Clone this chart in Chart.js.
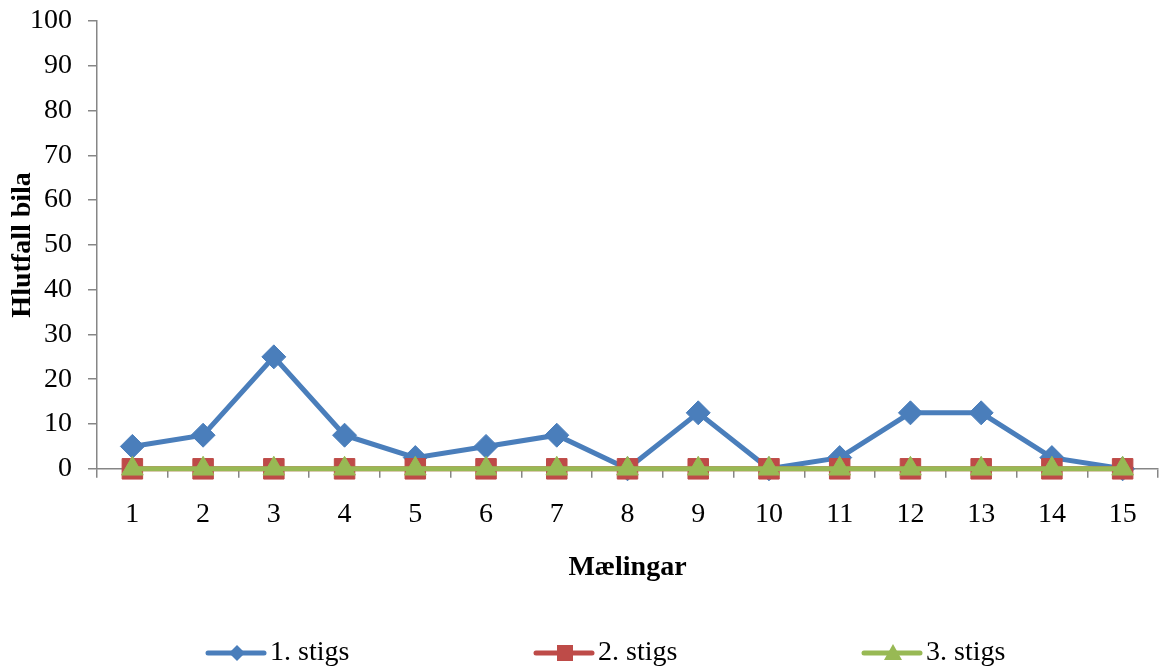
<!DOCTYPE html>
<html>
<head>
<meta charset="utf-8">
<script src="https://cdn.jsdelivr.net/npm/chart.js@4.4.1/dist/chart.umd.min.js"></script>
<style>
  html, body { margin: 0; padding: 0; background: #fff; }
  #wrap { width: 1162px; height: 672px; }
</style>
</head>
<body>
<div id="wrap"><canvas id="chart"></canvas></div>
<script>
const categories = ['1', '2', '3', '4', '5', '6', '7', '8', '9', '10', '11', '12', '13', '14', '15'];
const stig1 = [5, 7.5, 25, 7.5, 2.5, 5, 7.5, 0, 12.5, 0, 2.5, 12.5, 12.5, 2.5, 0];
const stig2 = [0, 0, 0, 0, 0, 0, 0, 0, 0, 0, 0, 0, 0, 0, 0];
const stig3 = [0, 0, 0, 0, 0, 0, 0, 0, 0, 0, 0, 0, 0, 0, 0];
const seriesNames = ['1. stigs', '2. stigs', '3. stigs'];

const serif = '"Liberation Serif", "Times New Roman", serif';
const axisGray = '#868686';

// legend drawn by hand: line with marker, items spread out like the original
const lineLegend = {
  id: 'lineLegend',
  afterDraw(chart) {
    const ctx = chart.ctx;
    const y = 653;
    ctx.save();
    ctx.font = '28px ' + serif;
    ctx.textBaseline = 'middle';
    chart.data.datasets.forEach((ds, i) => {
      const x = 208 + i * 328;
      ctx.strokeStyle = ds.borderColor;
      ctx.lineWidth = 5;
      ctx.lineCap = 'round';
      ctx.beginPath();
      ctx.moveTo(x, y);
      ctx.lineTo(x + 56, y);
      ctx.stroke();
      const cx = x + 29;
      ctx.fillStyle = ds.pointBackgroundColor;
      ctx.beginPath();
      if (ds.pointStyle === 'rectRot') {
        ctx.moveTo(cx, y - 8); ctx.lineTo(cx + 8, y); ctx.lineTo(cx, y + 8); ctx.lineTo(cx - 8, y);
      } else if (ds.pointStyle === 'rect') {
        ctx.rect(cx - 8, y - 8, 16, 16);
      } else {
        ctx.moveTo(cx, y - 9); ctx.lineTo(cx + 9, y + 7); ctx.lineTo(cx - 9, y + 7);
      }
      ctx.closePath();
      ctx.fill();
      ctx.fillStyle = '#000';
      ctx.fillText(ds.label, x + 62, y);
    });
    ctx.restore();
  }
};

const ctx = document.getElementById('chart').getContext('2d');
new Chart(ctx, {
  type: 'line',
  data: {
    labels: categories,
    datasets: [
      {
        label: seriesNames[0], data: stig1, order: 3,
        borderColor: '#4A7EBB', backgroundColor: '#4A7EBB',
        pointBackgroundColor: '#4A7EBB', pointBorderColor: '#4A7EBB',
        borderWidth: 5, pointStyle: 'rectRot', pointRadius: 12, pointBorderWidth: 1
      },
      {
        label: seriesNames[1], data: stig2, order: 2,
        borderColor: '#BE4B48', backgroundColor: '#BE4B48',
        pointBackgroundColor: '#BE4B48', pointBorderColor: '#BE4B48',
        borderWidth: 5, pointStyle: 'rect', pointRadius: 14.5, pointBorderWidth: 1
      },
      {
        label: seriesNames[2], data: stig3, order: 1,
        borderColor: '#98B954', backgroundColor: '#98B954',
        pointBackgroundColor: '#98B954', pointBorderColor: '#98B954',
        borderWidth: 5, pointStyle: 'triangle', pointRadius: 12.5, pointBorderWidth: 1
      }
    ]
  },
  options: {
    responsive: true,
    maintainAspectRatio: false,
    animation: false,
    clip: false,
    layout: { autoPadding: false, padding: { top: 21, right: 4, bottom: 87, left: 6 } },
    plugins: {
      legend: { display: false },
      tooltip: { enabled: false }
    },
    scales: {
      x: {
        offset: true,
        afterFit(s) { s.paddingLeft = 0; s.paddingRight = 0; },
        grid: { offset: true, drawOnChartArea: false, drawTicks: true, tickLength: 9, color: axisGray, lineWidth: 1.5 },
        border: { color: axisGray, width: 1.5 },
        ticks: { color: '#000', padding: 20, font: { family: serif, size: 28 }, maxRotation: 0 },
        title: { display: true, text: 'Mælingar', color: '#000', font: { family: serif, size: 28, weight: 'bold' }, padding: { top: 0, bottom: 0 } }
      },
      y: {
        min: 0, max: 100,
        afterFit(s) { s.width = 91; s.paddingTop = 0; s.paddingBottom = 0; },
        grid: { drawOnChartArea: false, drawTicks: true, tickLength: 9, color: axisGray, lineWidth: 1.5 },
        border: { color: axisGray, width: 1.5 },
        ticks: { stepSize: 10, color: '#000', padding: 16, font: { family: serif, size: 28 } },
        title: { display: true, text: 'Hlutfall bila', color: '#000', font: { family: serif, size: 28, weight: 'bold' }, padding: { top: 0, bottom: 0 } }
      }
    }
  },
  plugins: [lineLegend]
});
</script>
</body>
</html>
